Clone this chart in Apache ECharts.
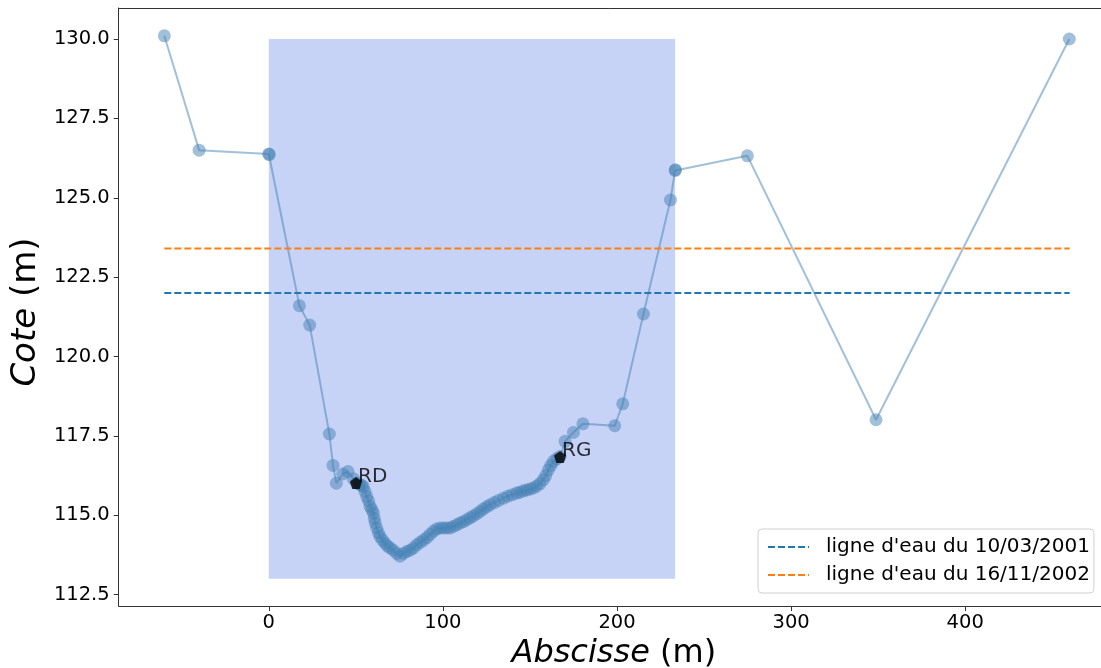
<!DOCTYPE html>
<html>
<head>
<meta charset="utf-8">
<script src="https://cdn.jsdelivr.net/npm/echarts@6/dist/echarts.min.js"></script>
<style>
html,body{margin:0;padding:0;background:#fff;}
#chart{width:1101px;height:668px;}
</style>
</head>
<body>
<div id="chart"></div>
<script>
// ---- data ----
const profileX = [-60, -40, 0, 0.3, 17.6, 23.5, 34.8, 36.9, 38.8, 42.5, 45.5, 48.6, 50.5, 52.0, 53.2, 54.3, 55.3, 56.3, 57.3, 58.2, 59.2, 60.1, 60.6, 61.1, 62.0, 63.0, 63.9, 65.3, 66.8, 68.2, 69.7, 71.6, 73.5, 75.4, 77.4, 79.3, 81.2, 83.1, 85.0, 87.0, 88.9, 90.8, 92.7, 94.6, 96.5, 98.4, 100.3, 102.2, 104.1, 106.0, 108.0, 109.9, 111.8, 113.7, 115.6, 117.5, 119.5, 121.4, 123.3, 125.2, 127.1, 129.5, 132.0, 134.8, 137.3, 139.9, 142.4, 144.3, 146.3, 148.2, 150.1, 152.0, 153.9, 155.8, 157.7, 159.1, 160.6, 162.0, 163.5, 165.4, 167.3, 170.2, 175.0, 180.4, 198.7, 203.3, 215.2, 230.7, 233.4, 233.6, 274.9, 348.8, 459.8];
const profileY = [130.1, 126.5, 126.38, 126.36, 121.6, 120.99, 117.56, 116.57, 116.01, 116.3, 116.38, 116.15, 116.02, 115.98, 115.95, 115.9, 115.75, 115.59, 115.45, 115.28, 115.18, 115.07, 114.9, 114.76, 114.6, 114.45, 114.33, 114.22, 114.12, 114.03, 113.97, 113.9, 113.8, 113.71, 113.8, 113.86, 113.9, 113.97, 114.07, 114.15, 114.22, 114.3, 114.4, 114.5, 114.57, 114.6, 114.6, 114.6, 114.6, 114.65, 114.7, 114.76, 114.8, 114.86, 114.92, 114.98, 115.05, 115.12, 115.2, 115.27, 115.33, 115.4, 115.47, 115.54, 115.6, 115.65, 115.7, 115.73, 115.77, 115.8, 115.83, 115.86, 115.92, 116.0, 116.12, 116.25, 116.43, 116.57, 116.7, 116.78, 116.85, 117.33, 117.61, 117.88, 117.82, 118.51, 121.34, 124.93, 125.86, 125.88, 126.32, 118.01, 130.0];
const bankNames = ['RD', 'RG'];
const bankX = [50.1, 167.3];
const bankY = [116.02, 116.84];
const waterNames = ["ligne d'eau du 10/03/2001", "ligne d'eau du 16/11/2002"];
const waterLevels = [122.0, 123.4];
const waterX = [-60, 460];
const zoneX = [0, 233.4];
const zoneY = [113.0, 130.0];
const xTicks = [0, 100, 200, 300, 400];
const yTicks = [112.5, 115.0, 117.5, 120.0, 122.5, 125.0, 127.5, 130.0];
const xRange = [-86.2, 478.0];
const yRange = [112.144, 130.976];

// ---- chart ----
const chart = echarts.init(document.getElementById('chart'), null, {renderer: 'canvas'});
const FONT = 'DejaVu Sans';
const steel = 'rgba(70,130,180,0.5)';
const waterColors = ['#1f77b4', '#ff7f0e'];
const pentagon = 'path://M0,-10 L9.51,-3.09 L5.88,8.09 L-5.88,8.09 L-9.51,-3.09 Z';
const spine = '#333';

const series = [];
series.push({
  type: 'line', name: 'zone', silent: true, data: [],
  markArea: {
    silent: true,
    itemStyle: {color: 'rgba(65,105,225,0.3)'},
    data: [[{coord: [zoneX[0], zoneY[0]]}, {coord: [zoneX[1], zoneY[1]]}]]
  },
  z: 1
});
series.push({
  type: 'line', name: 'profil',
  data: profileX.map((x, i) => [x, profileY[i]]),
  symbol: 'circle', symbolSize: 13, showSymbol: true,
  itemStyle: {color: steel, borderWidth: 0},
  lineStyle: {color: steel, width: 2},
  z: 3
});
waterLevels.forEach((lv, i) => {
  series.push({
    type: 'line', name: waterNames[i],
    data: waterX.map(x => [x, lv]),
    symbol: 'none',
    itemStyle: {color: waterColors[i]},
    lineStyle: {color: waterColors[i], width: 2, type: [7, 3]},
    z: 4
  });
});
series.push({
  type: 'scatter', name: 'rives',
  data: bankX.map((x, i) => ({value: [x, bankY[i]], name: bankNames[i]})),
  symbol: pentagon, symbolSize: 12,
  itemStyle: {color: '#000'},
  label: {
    show: true, formatter: p => p.name, position: [8, 0],
    align: 'left', verticalAlign: 'middle',
    fontFamily: FONT, fontSize: 20, color: '#000'
  },
  z: 5
});

chart.setOption({
  animation: false,
  grid: {left: 118.7, top: 8, right: 0, bottom: 62, show: false, containLabel: false, outerBoundsMode: 'none'},
  legend: {
    orient: 'vertical', left: 758, top: 529,
    data: waterNames,
    itemWidth: 41, itemHeight: 14, itemGap: 8,
    padding: [8, 4, 8, 9],
    borderColor: '#d0d0d0', borderWidth: 1, borderRadius: 4,
    backgroundColor: 'rgba(255,255,255,0.8)',
    itemStyle: {opacity: 0},
    textStyle: {fontFamily: FONT, fontSize: 20, color: '#000', padding: [0, 0, 0, 12], lineHeight: 20},
    selectedMode: false
  },
  xAxis: [{
    type: 'value', min: xRange[0], max: xRange[1], position: 'bottom',
    splitLine: {show: false},
    axisLine: {show: true, onZero: false, lineStyle: {color: spine, width: 1}},
    axisTick: {show: true, length: 5, lineStyle: {color: spine}, customValues: xTicks},
    axisLabel: {fontFamily: FONT, fontSize: 19.5, color: '#000', margin: 7, customValues: xTicks, formatter: v => String(v)},
    name: '{i|Abscisse} (m)', nameLocation: 'middle', nameGap: 26,
    nameTextStyle: {fontFamily: FONT, fontSize: 32, color: '#000', padding: [0, 0, 0, 8], rich: {i: {fontFamily: FONT, fontSize: 32, fontStyle: 'italic', color: '#000'}}}
  }, {
    type: 'value', min: xRange[0], max: xRange[1], position: 'top',
    splitLine: {show: false},
    axisLine: {show: true, onZero: false, lineStyle: {color: spine, width: 1}},
    axisTick: {show: false}, axisLabel: {show: false}
  }],
  yAxis: {
    type: 'value', min: yRange[0], max: yRange[1],
    splitLine: {show: false},
    axisLine: {show: true, onZero: false, lineStyle: {color: spine, width: 1}},
    axisTick: {show: true, length: 5, lineStyle: {color: spine}, customValues: yTicks},
    axisLabel: {fontFamily: FONT, fontSize: 19.5, color: '#000', margin: 9, customValues: yTicks, formatter: v => v.toFixed(1)},
    name: '{i|Cote} (m)', nameLocation: 'middle', nameGap: 70, nameRotate: 90,
    nameTextStyle: {fontFamily: FONT, fontSize: 34, color: '#000', padding: [0, 10, 0, 0], rich: {i: {fontFamily: FONT, fontSize: 34, fontStyle: 'italic', color: '#000'}}}
  },
  series: series
});
</script>
</body>
</html>
